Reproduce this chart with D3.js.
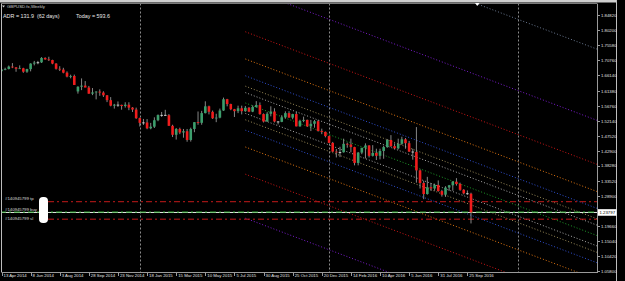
<!DOCTYPE html>
<meta charset="utf-8" />
<style>
  body { margin: 0; background: #000; }
  svg { display: block; background: #000; }
  text { font-family: "Liberation Sans", Arial, sans-serif; fill: #e8e8e8; }
  .axis text { font-size: 4.3px; fill: #e0e0e0; }
  .axis path, .axis line { stroke: #9a9a9a; shape-rendering: crispEdges; }
  .chan { fill: none; stroke-width: 1; stroke-dasharray: 1,2; }
</style>
<svg width="625" height="281"></svg>
<script src="https://d3js.org/d3.v7.min.js"></script>
<script>
  // weekly GBPUSD bars, first bar = week of 13 Apr 2014
  var open = [1.6745,1.6800,1.6815,1.6888,1.6862,1.6820,1.6835,1.6730,1.6810,1.6980,
    1.7010,1.7018,1.7155,1.7110,1.7090,1.6980,1.6820,1.6795,1.6700,1.6580,
    1.6597,1.6120,1.6265,1.6300,1.6240,1.6050,1.6090,1.6115,1.6085,1.6000,
    1.5850,1.5680,1.5710,1.5705,1.5670,1.5710,1.5620,1.5560,1.5295,1.5150,
    1.5160,1.4980,1.5030,1.5230,1.5390,1.5395,1.5385,1.5057,1.4780,1.4960,
    1.4850,1.4890,1.4620,1.4960,1.5170,1.5150,1.5450,1.5660,1.5490,1.5290,
    1.5310,1.5530,1.5880,1.5730,1.5570,1.5510,1.5600,1.5510,1.5615,1.5495,
    1.5640,1.5700,1.5420,1.5190,1.5430,1.5500,1.5190,1.5180,1.5320,1.5450,
    1.5310,1.5420,1.5040,1.5210,1.5240,1.5040,1.5120,1.5200,1.4900,1.4870,
    1.4740,1.4530,1.4260,1.4240,1.4240,1.4500,1.4480,1.4400,1.3910,1.4230,
    1.4380,1.4450,1.4130,1.4220,1.4130,1.4280,1.4400,1.4620,1.4430,1.4360,
    1.4500,1.4640,1.4520,1.4260,1.4250,1.3680,1.3290,1.2950,1.3160,1.3120,
    1.3230,1.3040,1.2930,1.3150,1.3220,1.3330,1.3260,1.3080,1.2970,1.2960];
  var high = [1.6842,1.6853,1.6920,1.6996,1.6875,1.6925,1.6850,1.6820,1.6990,1.7063,
    1.7064,1.7180,1.7175,1.7192,1.7100,1.6995,1.6900,1.6850,1.6740,1.6637,
    1.6640,1.6280,1.6523,1.6440,1.6290,1.6225,1.6125,1.6185,1.6125,1.6010,
    1.5945,1.5735,1.5810,1.5710,1.5785,1.5785,1.5635,1.5620,1.5310,1.5270,
    1.5265,1.5148,1.5320,1.5410,1.5486,1.5552,1.5420,1.5090,1.4990,1.5000,
    1.4960,1.4960,1.5000,1.5170,1.5500,1.5520,1.5815,1.5680,1.5530,1.5430,
    1.5590,1.5930,1.5890,1.5740,1.5580,1.5680,1.5680,1.5670,1.5640,1.5690,
    1.5820,1.5780,1.5440,1.5480,1.5660,1.5600,1.5200,1.5385,1.5505,1.5510,
    1.5430,1.5485,1.5245,1.5340,1.5250,1.5240,1.5240,1.5240,1.4970,1.4880,
    1.4750,1.4560,1.4340,1.4410,1.4660,1.4540,1.4660,1.4410,1.4250,1.4370,
    1.4515,1.4460,1.4460,1.4350,1.4350,1.4440,1.4650,1.4770,1.4515,1.4660,
    1.4720,1.4680,1.4590,1.4350,1.5018,1.3710,1.3360,1.3480,1.3290,1.3270,
    1.3370,1.3080,1.3190,1.3230,1.3350,1.3440,1.3300,1.3100,1.3060,1.2990];
  var low = [1.6650,1.6775,1.6800,1.6840,1.6728,1.6820,1.6695,1.6695,1.6740,1.6925,
    1.6960,1.7000,1.7098,1.7060,1.6960,1.6795,1.6750,1.6680,1.6555,1.6525,
    1.6320,1.6052,1.6160,1.6250,1.6050,1.6005,1.5875,1.5985,1.5950,1.5790,
    1.5660,1.5590,1.5640,1.5555,1.5620,1.5540,1.5485,1.5270,1.5035,1.5085,
    1.4952,1.4950,1.4990,1.5200,1.5335,1.5370,1.5057,1.4710,1.4633,1.4800,
    1.4690,1.4565,1.4570,1.4860,1.5090,1.5090,1.5440,1.5410,1.5270,1.5170,
    1.5290,1.5520,1.5660,1.5540,1.5330,1.5450,1.5410,1.5490,1.5480,1.5480,
    1.5620,1.5400,1.5160,1.5180,1.5350,1.5160,1.5100,1.5170,1.5280,1.5310,
    1.5260,1.5040,1.5030,1.5170,1.5030,1.4895,1.5000,1.4880,1.4800,1.4700,
    1.4530,1.4250,1.4080,1.4090,1.4230,1.4380,1.4240,1.3835,1.3835,1.4180,
    1.4050,1.4080,1.4110,1.4000,1.4020,1.4040,1.4380,1.4400,1.4330,1.4330,
    1.4470,1.4350,1.4250,1.4010,1.3300,1.3120,1.2790,1.2930,1.3050,1.3050,
    1.3020,1.2870,1.2860,1.3050,1.3050,1.3210,1.3050,1.2940,1.2920,1.2040];
  var close = [1.6800,1.6815,1.6888,1.6862,1.6820,1.6835,1.6730,1.6810,1.6980,1.7010,
    1.7018,1.7155,1.7110,1.7090,1.6980,1.6820,1.6795,1.6700,1.6580,1.6597,
    1.6320,1.6265,1.6300,1.6240,1.6050,1.6090,1.6115,1.6085,1.6000,1.5850,
    1.5680,1.5710,1.5705,1.5670,1.5710,1.5620,1.5560,1.5295,1.5150,1.5160,
    1.4980,1.5030,1.5230,1.5390,1.5395,1.5385,1.5057,1.4780,1.4960,1.4850,
    1.4890,1.4620,1.4960,1.5170,1.5150,1.5450,1.5660,1.5490,1.5290,1.5310,
    1.5530,1.5880,1.5730,1.5570,1.5510,1.5600,1.5510,1.5615,1.5495,1.5640,
    1.5700,1.5420,1.5190,1.5430,1.5500,1.5190,1.5180,1.5320,1.5450,1.5310,
    1.5420,1.5040,1.5210,1.5240,1.5040,1.5120,1.5200,1.4900,1.4870,1.4740,
    1.4530,1.4260,1.4240,1.4240,1.4500,1.4480,1.4400,1.3910,1.4230,1.4380,
    1.4450,1.4130,1.4220,1.4130,1.4280,1.4400,1.4620,1.4430,1.4360,1.4500,
    1.4640,1.4520,1.4260,1.4250,1.3680,1.3290,1.2950,1.3160,1.3120,1.3230,
    1.3040,1.2930,1.3150,1.3220,1.3330,1.3260,1.3080,1.2970,1.2960,1.23797];

  var dateTicks = ["13 Apr 2014","8 Jun 2014","3 Aug 2014","28 Sep 2014","23 Nov 2014",
    "18 Jan 2015","15 Mar 2015","10 May 2015","5 Jul 2015","30 Aug 2015","25 Oct 2015",
    "20 Dec 2015","14 Feb 2016","10 Apr 2016","5 Jun 2016","31 Jul 2016","25 Sep 2016"];
  var dateTickIdx = [0,8,16,24,32,40,48,56,64,72,80,88,96,104,112,120,128];
  var priceTicks = [1.84820,1.80200,1.75580,1.70760,1.66140,1.61380,1.56760,1.52140,
    1.47520,1.42900,1.38280,1.33520,1.28900,1.19660,1.15040,1.10420,1.05800];
  var yearSeps = [38, 90, 142]; // first bar of 2015, 2016, 2017

  // fibo channel: centre line, slope per bar, unit width and levels
  var chanStart = 67, chanEnd = 175;
  var chanCentre = 1.5763, chanSlope = -0.00424, chanUnit = 0.136;
  var chanLevels = [0, 0.236, 0.382, 0.618, 1, 1.618, 2.618, 4.236];
  var chanColors = ["#1f9a2a","#a8a8a8","#9a8a58","#2f4fd0","#e07612","#cc1616","#7a1ccc","#6a7890"];

  // order lines
  var bid = 1.23797, buyPrice = 1.2392, tpPrice = 1.2712, slPrice = 1.2172;
  var ticket = "#140945799";

  var svg = d3.select("svg"),
    width = +svg.attr("width"),
    height = +svg.attr("height");

  var pLeft = 1.5, pRight = 597.5, pTop = 3.5, pBottom = 272.5;

  var x = d3.scaleLinear().domain([0, 129]).range([1.5, 471]);
  var y = d3.scaleLinear().domain([1.05800, 1.84820]).range([270.7, 15]);

  // window frame bits
  svg.append("rect").attr("x", 0).attr("y", 0).attr("width", 617).attr("height", 2.5).attr("fill", "#cfcfcf");
  svg.append("line").attr("x1", 616.5).attr("x2", 616.5).attr("y1", 0).attr("y2", height).attr("stroke", "#bdbdbd");

  svg.append("clipPath").attr("id", "plot")
    .append("rect").attr("x", pLeft).attr("y", pTop).attr("width", pRight - pLeft).attr("height", pBottom - pTop);

  var plot = svg.append("g").attr("clip-path", "url(#plot)");

  // year separators
  plot.selectAll(".sep").data(yearSeps).enter().append("line")
    .attr("x1", function (d) { return Math.round(x(d)) + 0.5; })
    .attr("x2", function (d) { return Math.round(x(d)) + 0.5; })
    .attr("y1", pTop).attr("y2", pBottom)
    .attr("stroke", "#8a8a8a").attr("stroke-dasharray", "2,2");

  // channel lines
  var chanLines = [];
  chanLevels.forEach(function (lv, k) {
    (lv === 0 ? [0] : [1, -1]).forEach(function (s) {
      chanLines.push({ off: s * lv * chanUnit, color: chanColors[k] });
    });
  });
  var chanLine = d3.line()
    .x(function (d) { return x(d[0]); })
    .y(function (d) { return y(d[1]); });
  plot.selectAll(".chan").data(chanLines).enter().append("path")
    .attr("class", "chan")
    .attr("stroke", function (d) { return d.color; })
    .attr("d", function (d) {
      return chanLine([chanStart, chanEnd].map(function (i) {
        return [i, chanCentre + chanSlope * (i - chanStart) + d.off];
      }));
    });

  // order lines
  function hline(p, color, dash) {
    plot.append("line")
      .attr("x1", p.x1).attr("x2", pRight)
      .attr("y1", y(p.v)).attr("y2", y(p.v))
      .attr("stroke", color).attr("stroke-dasharray", dash || null);
  }
  hline({ v: tpPrice, x1: 48 }, "#c41a1a", "6,3,2,3");
  hline({ v: slPrice, x1: 48 }, "#c41a1a", "6,3,2,3");
  hline({ v: bid, x1: 0 }, "#e6efe6");
  hline({ v: buyPrice, x1: 0 }, "#2eaa2e", "6,3,2,3");

  // candles
  var bars = d3.range(open.length).map(function (i) {
    return { i: i, o: open[i], h: high[i], l: low[i], c: close[i] };
  });
  var candle = plot.selectAll(".candle").data(bars).enter().append("g");
  candle.append("line")
    .attr("x1", function (d) { return x(d.i); })
    .attr("x2", function (d) { return x(d.i); })
    .attr("y1", function (d) { return y(d.h); })
    .attr("y2", function (d) { return y(d.l); })
    .attr("stroke", "#a8a8a8").attr("stroke-width", 0.8);
  candle.append("rect")
    .attr("x", function (d) { return x(d.i) - 1.3; })
    .attr("width", 2.6)
    .attr("y", function (d) { return y(Math.max(d.o, d.c)); })
    .attr("height", function (d) { return Math.max(0.8, Math.abs(y(d.o) - y(d.c))); })
    .attr("fill", function (d) {
      if (Math.abs(d.o - d.c) < 0.0012) return "#e8e8e8";
      return d.c > d.o ? "#3c9e6c" : "#f01c1c";
    });

  // borders
  svg.append("line").attr("x1", pLeft).attr("x2", pRight).attr("y1", pTop).attr("y2", pTop).attr("stroke", "#7a7a7a");
  svg.append("line").attr("x1", pLeft).attr("x2", pLeft).attr("y1", pTop).attr("y2", pBottom).attr("stroke", "#bcbcbc");

  // price axis
  svg.append("g").attr("class", "axis")
    .attr("transform", "translate(" + pRight + ",0)")
    .call(d3.axisRight(y).tickValues(priceTicks).tickSize(2).tickPadding(1.5)
      .tickFormat(d3.format(".5f")))
    .call(function (g) { g.select(".domain").attr("d", "M0," + pTop + "V" + pBottom); });

  // bid label
  svg.append("rect").attr("x", pRight + 0.5).attr("y", y(bid) - 3.3)
    .attr("width", 18.5).attr("height", 6.6).attr("fill", "#ffffff");
  svg.append("text").attr("x", pRight + 2).attr("y", y(bid)).attr("dy", "0.35em")
    .attr("font-size", 4.3).style("fill", "#000").text(d3.format(".5f")(bid));

  // time axis
  var xAxis = svg.append("g").attr("class", "axis")
    .attr("transform", "translate(0," + pBottom + ")")
    .call(d3.axisBottom(x).tickValues(dateTickIdx).tickSize(3).tickPadding(0.5)
      .tickFormat(function (d, k) { return dateTicks[k]; }))
    .call(function (g) { g.select(".domain").attr("d", "M" + pLeft + ",0H" + pRight); });
  xAxis.selectAll(".tick text").attr("text-anchor", "start").attr("x", 1.5).attr("y", 1).attr("dy", "0.71em");

  // header
  svg.append("path").attr("d", "M2,5.5L5,5.5L3.5,7.5Z").attr("fill", "#d0d0d0");
  svg.append("text").attr("x", 7).attr("y", 8).attr("font-size", 4.3).style("fill", "#d0d0d0").text("GBPUSD.fx,Weekly");
  svg.append("text").attr("x", 3).attr("y", 18).attr("font-size", 5.4).text("ADR = 131.9");
  svg.append("text").attr("x", 37).attr("y", 18).attr("font-size", 5.4).text("(62 days)");
  svg.append("text").attr("x", 76).attr("y", 18).attr("font-size", 5.4).text("Today = 593.6");

  // chart shift marker
  svg.append("path").attr("d", "M475,3L479.5,3L477.25,6Z").attr("fill", "#ffffff");

  // order labels
  var orderLabels = [[tpPrice, " tp"], [buyPrice, " buy"], [slPrice, " sl"]];
  svg.selectAll(".olab").data(orderLabels).enter().append("text")
    .attr("x", 5).attr("y", function (d, k) { return y(d[0]) - [1.5, 1.5, -0.5][k]; })
    .attr("font-size", 4.3).style("fill", "#d8d8d8")
    .text(function (d) { return ticket + d[1]; });

  svg.append("rect").attr("x", 39).attr("y", 197).attr("width", 9).attr("height", 26)
    .attr("rx", 4).attr("fill", "#ffffff");
</script>
